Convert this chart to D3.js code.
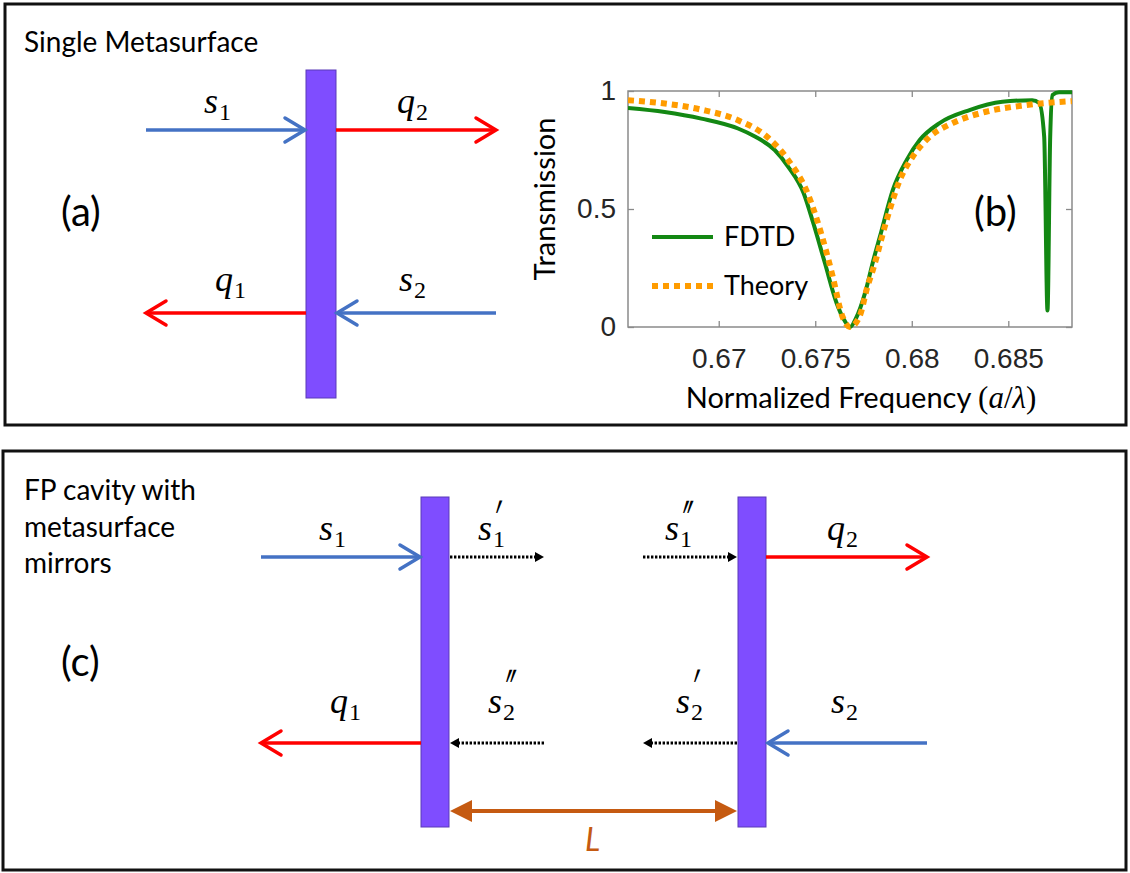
<!DOCTYPE html>
<html>
<head>
<meta charset="utf-8">
<script src="https://cdn.jsdelivr.net/npm/d3@7"></script>
<style>
  body { margin: 0; background: #fff; }
  svg { display: block; }
</style>
</head>
<body>
<div id="chartDiv"></div>
<script>
// ---- data ----
var fdtdFreq = [0.6653, 0.6672, 0.6691, 0.6710, 0.6719, 0.6729, 0.6736, 0.6744, 0.6749, 0.6755,
                0.6761, 0.6765, 0.6768, 0.6771, 0.6776, 0.6780, 0.67835, 0.67902, 0.67974, 0.68041,
                0.68144, 0.68299, 0.68469, 0.68624, 0.6866, 0.68686, 0.68703, 0.68717, 0.68729, 0.68763, 0.6883]
var fdtdT    = [0.928, 0.911, 0.883, 0.841, 0.806, 0.750, 0.679, 0.567, 0.440, 0.271,
                0.103, 0.030, 0.000, 0.035, 0.150, 0.280, 0.383, 0.581, 0.708, 0.792,
                0.864, 0.919, 0.954, 0.961, 0.949, 0.805, 0.070, 0.805, 0.983, 0.995, 0.995]

var theoryFreq = [0.6653, 0.6672, 0.6691, 0.6710, 0.6725, 0.6736, 0.6746, 0.6753, 0.6759, 0.6764,
                  0.6768, 0.6773, 0.6777, 0.67799, 0.6787, 0.67938, 0.68005, 0.68093, 0.68211, 0.68385,
                  0.68591, 0.6883]
var theoryT    = [0.961, 0.947, 0.921, 0.876, 0.806, 0.707, 0.567, 0.398, 0.215, 0.046,
                  0.000, 0.046, 0.170, 0.243, 0.454, 0.623, 0.722, 0.806, 0.864, 0.912,
                  0.940, 0.957]

var xTicks = [0.67, 0.675, 0.68, 0.685]
var yTicks = [0, 0.5, 1]
var seriesNames = ["FDTD", "Theory"]

var textFont = "Lato, 'Open Sans', sans-serif"
var mathFont = "'Liberation Serif', 'DejaVu Serif', serif"
var blue = "#4472c4", red = "#ff0000", purple = "#7f4dff", brown = "#c55a11"
var green = "#138813", orange = "#ff9c00"

var svg = d3.select("#chartDiv")
  .append("svg")
    .attr("width", 1130)
    .attr("height", 873)

svg.append("rect").attr("width", 1130).attr("height", 873).attr("fill", "#fff")

// panel frames
svg.append("rect")
  .attr("x", 5).attr("y", 4).attr("width", 1121).attr("height", 421)
  .attr("fill", "none").attr("stroke", "#111").attr("stroke-width", 3)
svg.append("rect")
  .attr("x", 3).attr("y", 451).attr("width", 1123).attr("height", 419)
  .attr("fill", "none").attr("stroke", "#111").attr("stroke-width", 3)

// ---- helpers for the sketches ----
function bar(g, x, y, w, h) {
  g.append("rect")
    .attr("x", x).attr("y", y).attr("width", w).attr("height", h)
    .attr("fill", purple).attr("stroke", "#5a3ab8").attr("stroke-width", 1)
}

function arrow(g, x1, x2, y, color, kind) {
  var dir = Math.sign(x2 - x1)
  if (kind == "dot") {
    g.append("line")
      .attr("x1", x1).attr("x2", x2 - dir * 6).attr("y1", y).attr("y2", y)
      .attr("stroke", "#000").attr("stroke-width", 3).attr("stroke-dasharray", "2.4,1.6")
    g.append("path")
      .attr("d", "M" + x2 + "," + y + "L" + (x2 - dir * 9) + "," + (y - 5) + "L" + (x2 - dir * 9) + "," + (y + 5) + "Z")
      .attr("fill", "#000")
  } else {
    g.append("line")
      .attr("x1", x1).attr("x2", x2 - dir * 2).attr("y1", y).attr("y2", y)
      .attr("stroke", color).attr("stroke-width", 3.5)
    g.append("path")
      .attr("d", "M" + (x2 - dir * 20) + "," + (y - 12) + "L" + x2 + "," + y + "L" + (x2 - dir * 20) + "," + (y + 12))
      .attr("fill", "none").attr("stroke", color).attr("stroke-width", 3.5)
      .attr("stroke-linecap", "round")
  }
}

function mathLabel(g, x, y, letter, sub, prime) {
  var t = g.append("text")
    .attr("x", x).attr("y", y)
    .attr("font-family", mathFont).attr("fill", "#000")
  t.append("tspan").attr("font-size", 36).attr("font-style", "italic").text(letter)
  t.append("tspan").attr("font-size", 24).attr("dy", 7).attr("dx", 1).text(sub)
  if (prime) {
    var px = x + 18
    g.append("text")
      .attr("transform", "translate(" + px + "," + (y - prime.lift) + ") scale(1.1,2.6)")
      .attr("font-family", "'DejaVu Sans', sans-serif").attr("font-size", 26)
      .attr("font-style", "italic")
      .attr("fill", "#000")
      .text(prime.mark)
  }
}

function plainText(g, x, y, size, str, opts) {
  opts = opts || {}
  return g.append("text")
    .attr("x", x).attr("y", y)
    .attr("font-family", textFont).attr("font-size", size)
    .attr("font-style", opts.italic ? "italic" : "normal")
    .attr("fill", opts.color || "#000")
    .text(str)
}

// ---- panel (a): single metasurface ----
var gA = svg.append("g")
plainText(gA, 24, 52, 28, "Single Metasurface")
plainText(gA, 61, 226, 40, "(a)")
bar(gA, 306, 70, 30, 328)
arrow(gA, 146, 305, 130, blue)
arrow(gA, 336, 496, 130, red)
arrow(gA, 306, 146, 313, red)
arrow(gA, 496, 337, 313, blue)
mathLabel(gA, 204, 113, "s", "1")
mathLabel(gA, 397, 113, "q", "2")
mathLabel(gA, 215, 291, "q", "1")
mathLabel(gA, 399, 291, "s", "2")

// ---- panel (b): transmission spectrum ----
var plot = {left: 628, right: 1072, top: 91, bottom: 327}
var x = d3.scaleLinear().domain([0.6653, 0.6883]).range([plot.left, plot.right])
var y = d3.scaleLinear().domain([0, 1]).range([plot.bottom, plot.top])
var gB = svg.append("g")

var axisColor = "#8a8a8a"
var fmt = function(d) { return String(d) }

gB.append("g")
  .attr("transform", "translate(0," + plot.bottom + ")")
  .call(d3.axisBottom(x).tickValues(xTicks).tickSize(-6).tickSizeOuter(0).tickPadding(21).tickFormat(fmt))
gB.append("g")
  .attr("transform", "translate(" + plot.left + ",0)")
  .call(d3.axisLeft(y).tickValues(yTicks).tickSize(-6).tickSizeOuter(0).tickPadding(12).tickFormat(fmt))
gB.append("g")
  .attr("transform", "translate(0," + plot.top + ")")
  .call(d3.axisTop(x).tickValues(xTicks).tickSize(-6).tickSizeOuter(0).tickFormat(""))
gB.append("g")
  .attr("transform", "translate(" + plot.right + ",0)")
  .call(d3.axisRight(y).tickValues(yTicks).tickSize(-6).tickSizeOuter(0).tickFormat(""))

gB.selectAll(".domain").remove()
gB.selectAll(".tick line").attr("stroke", axisColor).attr("stroke-width", 1.3)
gB.selectAll(".tick text")
  .attr("font-family", "'Liberation Sans', Arial, sans-serif")
  .attr("font-size", 28)
  .attr("fill", "#262626")

gB.append("rect")
  .attr("x", plot.left).attr("y", plot.top)
  .attr("width", plot.right - plot.left).attr("height", plot.bottom - plot.top)
  .attr("fill", "none").attr("stroke", axisColor).attr("stroke-width", 1.5)

gB.append("clipPath").attr("id", "clip")
  .append("rect")
    .attr("x", plot.left).attr("y", plot.top - 4)
    .attr("width", plot.right - plot.left).attr("height", plot.bottom - plot.top + 8)

var line = d3.line()
  .x(function(d) { return x(d[0]) })
  .y(function(d) { return y(d[1]) })
  .curve(d3.curveMonotoneX)

var curves = gB.append("g").attr("clip-path", "url(#clip)")
curves.append("path")
  .attr("d", line(d3.zip(fdtdFreq, fdtdT)))
  .attr("fill", "none").attr("stroke", green).attr("stroke-width", 4)
curves.append("path")
  .attr("d", line(d3.zip(theoryFreq, theoryT)))
  .attr("fill", "none").attr("stroke", orange).attr("stroke-width", 6)
  .attr("stroke-dasharray", "6,5")

// legend
var legend = gB.append("g")
legend.selectAll("line")
  .data(seriesNames)
  .enter().append("line")
    .attr("x1", 652).attr("x2", 713)
    .attr("y1", function(d, i) { return 237 + i * 49 })
    .attr("y2", function(d, i) { return 237 + i * 49 })
    .attr("stroke", function(d, i) { return i ? orange : green })
    .attr("stroke-width", function(d, i) { return i ? 6 : 4 })
    .attr("stroke-dasharray", function(d, i) { return i ? "6,5" : null })
legend.selectAll("text")
  .data(seriesNames)
  .enter().append("text")
    .attr("x", 724)
    .attr("y", function(d, i) { return 246 + i * 49 })
    .attr("font-family", textFont).attr("font-size", 27)
    .text(function(d) { return d })

// axis titles
gB.append("text")
  .attr("transform", "translate(555,199) rotate(-90)")
  .attr("text-anchor", "middle")
  .attr("font-family", textFont).attr("font-size", 29)
  .text("Transmission")
var xl = gB.append("text")
  .attr("x", 861).attr("y", 408)
  .attr("text-anchor", "middle")
  .attr("font-family", textFont).attr("font-size", 29)
xl.append("tspan").text("Normalized Frequency ")
xl.append("tspan").attr("font-family", mathFont).attr("font-size", 31).text("(")
xl.append("tspan").attr("font-family", mathFont).attr("font-size", 31).attr("font-style", "italic").text("a")
xl.append("tspan").attr("font-family", mathFont).attr("font-size", 31).text("/")
xl.append("tspan").attr("font-family", mathFont).attr("font-size", 31).attr("font-style", "italic").text("λ")
xl.append("tspan").attr("font-family", mathFont).attr("font-size", 31).text(")")
plainText(gB, 974, 226, 40, "(b)")

// ---- panel (c): FP cavity ----
var gC = svg.append("g")
plainText(gC, 24, 500, 28, "FP cavity with")
plainText(gC, 24, 537, 28, "metasurface")
plainText(gC, 24, 573, 28, "mirrors")
plainText(gC, 61, 676, 40, "(c)")
bar(gC, 421, 497, 28, 330)
bar(gC, 738, 497, 28, 330)

arrow(gC, 261, 420, 557, blue)
arrow(gC, 450, 544, 557, "#000", "dot")
arrow(gC, 643, 737, 557, "#000", "dot")
arrow(gC, 766, 927, 557, red)
arrow(gC, 421, 261, 743, red)
arrow(gC, 544, 450, 743, "#000", "dot")
arrow(gC, 737, 643, 743, "#000", "dot")
arrow(gC, 927, 768, 743, blue)

mathLabel(gC, 319, 540, "s", "1")
mathLabel(gC, 478, 540, "s", "1", {mark: "′", lift: -10})
mathLabel(gC, 665, 540, "s", "1", {mark: "″", lift: -10})
mathLabel(gC, 827, 540, "q", "2")
mathLabel(gC, 330, 713, "q", "1")
mathLabel(gC, 488, 713, "s", "2", {mark: "″", lift: -6})
mathLabel(gC, 676, 713, "s", "2", {mark: "′", lift: -6})
mathLabel(gC, 831, 713, "s", "2")

// cavity length
gC.append("line")
  .attr("x1", 468).attr("x2", 719).attr("y1", 811).attr("y2", 811)
  .attr("stroke", brown).attr("stroke-width", 4)
gC.append("path")
  .attr("d", "M450,811L472,800L472,822Z M737,811L715,800L715,822Z")
  .attr("fill", brown)
plainText(gC, 585, 851, 32, "L", {italic: true, color: brown})
</script>
</body>
</html>
